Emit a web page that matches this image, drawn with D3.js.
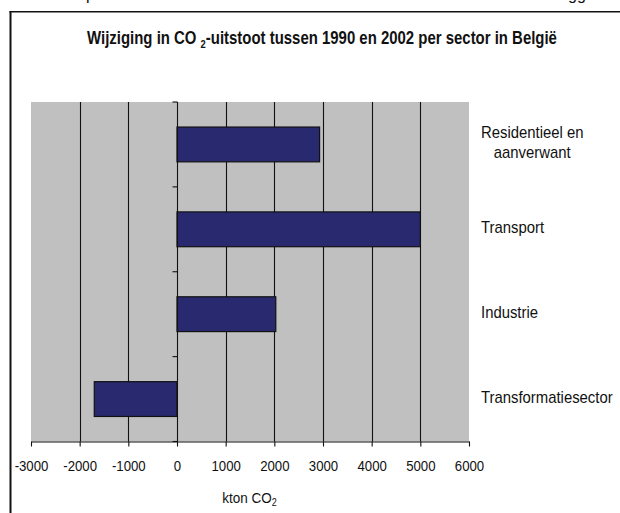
<!DOCTYPE html>
<html>
<head>
<meta charset="utf-8">
<script src="https://cdn.jsdelivr.net/npm/d3@7"></script>
<style>
  html, body { margin: 0; padding: 0; background: #fff; }
  svg { display: block; }
  text { font-family: "Liberation Sans", Arial, sans-serif; fill: #111; }
</style>
</head>
<body>
<svg id="chart" width="620" height="513"></svg>
<script>
// Change in CO2 emissions 1990-2002 per sector (kton CO2)
const categories = ["Residentieel en aanverwant", "Transport", "Industrie", "Transformatiesector"];
const categoryLines = [["Residentieel en", "aanverwant"], ["Transport"], ["Industrie"], ["Transformatiesector"]];
const values = [2930, 5000, 2030, -1700];
const xTicks = [-3000, -2000, -1000, 0, 1000, 2000, 3000, 4000, 5000, 6000];
const gridValues = [-2000, -1000, 1000, 2000, 3000, 4000, 5000];

const svg = d3.select("#chart");

const plot = { left: 31, right: 469, top: 102, bottom: 441.5 };

const x = d3.scaleLinear().domain([-3000, 6000]).range([plot.left, plot.right]);
const y = d3.scaleBand().domain(categories).range([plot.top, plot.bottom])
  .paddingInner(0.59).paddingOuter(0.295);

// page fragments running off the top edge
svg.append("text").attr("x", 86).attr("y", -0.5).style("font-size", "16px").text("p");
svg.append("text").attr("x", 568).attr("y", -0.5).style("font-size", "16px").text("gg");

// outer frame
svg.append("line").attr("x1", 10.5).attr("x2", 10.5).attr("y1", 11).attr("y2", 513)
  .attr("stroke", "#111").attr("stroke-width", 2);
svg.append("line").attr("x1", 9.5).attr("x2", 620).attr("y1", 11.8).attr("y2", 11.8)
  .attr("stroke", "#111").attr("stroke-width", 1.6);

// title, squeezed horizontally to its printed width
const titleG = svg.append("g");
const title = titleG.append("text")
  .attr("x", 0).attr("y", 0)
  .attr("text-anchor", "middle")
  .style("font-size", "17.5px").style("font-weight", "bold");
title.append("tspan").text("Wijziging in CO ");
title.append("tspan").attr("dy", 4).style("font-size", "11px").text("2");
title.append("tspan").attr("dy", -4).text("-uitstoot tussen 1990 en 2002 per sector in België");
const tw = title.node().getComputedTextLength();
titleG.attr("transform", `translate(322,44) scale(${470 / tw},1)`);

// plot area
svg.append("rect")
  .attr("x", plot.left).attr("y", plot.top)
  .attr("width", plot.right - plot.left).attr("height", plot.bottom - plot.top)
  .attr("fill", "#c0c0c0");

// vertical gridlines
svg.append("g").selectAll("line").data(gridValues).join("line")
  .attr("x1", d => Math.round(x(d)) + 0.5).attr("x2", d => Math.round(x(d)) + 0.5)
  .attr("y1", plot.top).attr("y2", plot.bottom)
  .attr("stroke", "#111").attr("stroke-width", 1.1);

// bars
svg.append("g").selectAll("rect").data(values).join("rect")
  .attr("x", d => x(Math.min(0, d)))
  .attr("width", d => Math.abs(x(d) - x(0)))
  .attr("y", (d, i) => y(categories[i]))
  .attr("height", y.bandwidth())
  .attr("fill", "#29296f")
  .attr("stroke", "#111").attr("stroke-width", 1.2);

// category axis on the zero line, ticks at band boundaries
const x0 = Math.round(x(0)) + 0.5;
svg.append("line").attr("x1", x0).attr("x2", x0).attr("y1", plot.top).attr("y2", plot.bottom)
  .attr("stroke", "#111").attr("stroke-width", 1.1);
const bounds = d3.range(categories.length + 1).map(i => plot.top + i * y.step());
svg.append("g").selectAll("line").data(bounds).join("line")
  .attr("x1", x0 - 5).attr("x2", x0)
  .attr("y1", d => d).attr("y2", d => d)
  .attr("stroke", "#111").attr("stroke-width", 1.1);

// value axis
const xAxis = svg.append("g")
  .attr("transform", `translate(0,${plot.bottom})`)
  .call(d3.axisBottom(x).tickValues(xTicks).tickFormat(d => String(d)).tickSize(5).tickSizeOuter(0).tickPadding(0));
xAxis.select(".domain").attr("stroke", "#111").attr("stroke-width", 1.1);
xAxis.selectAll(".tick line").attr("stroke", "#111").attr("stroke-width", 1.1);
xAxis.selectAll(".tick text")
  .attr("y", 29.5).attr("dy", null)
  .attr("transform", "scale(0.88,1)")
  .style("font-size", "15px").style("font-family", "'Liberation Sans', Arial, sans-serif")
  .attr("fill", "#111");

// axis title
const axTitle = svg.append("g").attr("transform", "translate(249.5,502.5) scale(0.9,1)");
const at = axTitle.append("text").attr("text-anchor", "middle").style("font-size", "15px");
at.append("tspan").text("kton CO");
at.append("tspan").attr("dy", 3).style("font-size", "10px").text("2");

// category labels to the right of the plot
const labelX = 481, sx = 0.93;
categoryLines.forEach((lines, i) => {
  const cy = y(categories[i]) + y.bandwidth() / 2;
  const firstBase = cy + 4 - (lines.length - 1) * 10;
  const g = svg.append("g").attr("transform", `translate(${labelX},${firstBase}) scale(${sx},1)`);
  const first = g.append("text").attr("x", 0).attr("y", 0).style("font-size", "16px").text(lines[0]);
  const w = first.node().getComputedTextLength();
  lines.slice(1).forEach((ln, k) => {
    g.append("text").attr("x", w / 2).attr("y", 20 * (k + 1))
      .attr("text-anchor", "middle").style("font-size", "16px").text(ln);
  });
});
</script>
</body>
</html>
